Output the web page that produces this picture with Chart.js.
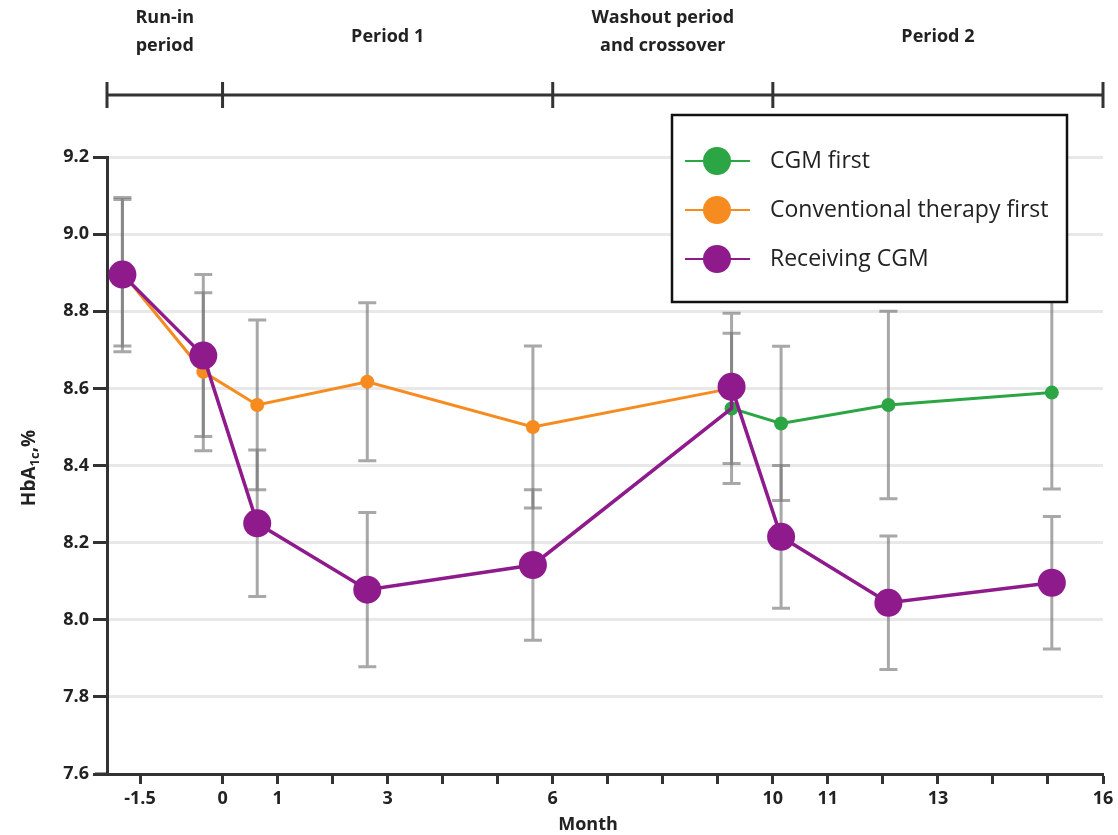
<!DOCTYPE html>
<html>
<head>
<meta charset="utf-8">
<script src="https://cdn.jsdelivr.net/npm/chart.js@4.4.1/dist/chart.umd.min.js"></script>
<style>
  html, body { margin: 0; padding: 0; background: #fff; }
  #wrap { width: 1118px; height: 835px; position: relative; }
</style>
</head>
<body>
<div id="wrap"><canvas id="c" width="1118" height="835"></canvas></div>
<script>
// ---------- data ----------
const months = [-1.82, -0.35, 0.63, 2.63, 5.64, 9.25, 10.15, 12.1, 15.07];

const conventionalFirst    = [8.90, 8.643, 8.557, 8.617, 8.50, 8.60];   // months[0..5]
const conventionalFirstErr = [0.19, 0.205, 0.22, 0.205, 0.21, 0.195];

const cgmFirst    = [8.548, 8.509, 8.557, 8.589];                       // months[5..8]
const cgmFirstErr = [0.195, 0.20, 0.243, 0.25];

const receivingCgmP1    = [8.895, 8.685, 8.25, 8.078, 8.142, 8.548];    // months[0..5]
const receivingCgmP1Err = [0.20, 0.21, 0.19, 0.20, 0.195, 0];
const receivingCgmP2    = [8.604, 8.215, 8.044, 8.096];                 // months[5..8]
const receivingCgmP2Err = [0, 0.185, 0.173, 0.172];

const xTickValues  = [-1.5, 0, 1, 2, 3, 4, 5, 6, 7, 8, 9, 10, 11, 12, 13, 14, 15, 16];
const xTickLabels  = [-1.5, 0, 1, 3, 6, 10, 11, 13, 16];
const yTickValues  = [7.6, 7.8, 8.0, 8.2, 8.4, 8.6, 8.8, 9.0, 9.2];

const periodEdges  = [-2.1, 0, 6, 10, 16];
const periodLabels = [["Run-in", "period"], ["Period 1"], ["Washout period", "and crossover"], ["Period 2"]];

const seriesNames  = ["CGM first", "Conventional therapy first", "Receiving CGM"];
const seriesColors = ["#2ca544", "#f68b1f", "#8e1a8c"];

// ---------- build datasets ----------
const greenData  = cgmFirst.map((v, i) => ({ x: months[5 + i], y: v }));
const orangeData = conventionalFirst.map((v, i) => ({ x: months[i], y: v }));
const purpleData = receivingCgmP1.map((v, i) => ({ x: months[i], y: v }))
  .concat(receivingCgmP2.map((v, i) => ({ x: months[5 + i], y: v })));
const purpleErr  = receivingCgmP1Err.concat(receivingCgmP2Err);

const FONT = "'Open Sans', 'Noto Sans', sans-serif";

const errorBarPlugin = {
  id: 'errorBars',
  beforeDatasetsDraw(chart) {
    const ctx = chart.ctx;
    const ys = chart.scales.y, xs = chart.scales.x;
    ctx.save();
    chart.data.datasets.forEach(ds => {
      (ds.errorBars || []).forEach((e, i) => {
        if (!e) return;
        const p = ds.data[i];
        const x = xs.getPixelForValue(p.x);
        const y1 = ys.getPixelForValue(p.y + e);
        const y2 = ys.getPixelForValue(p.y - e);
        ctx.strokeStyle = 'rgba(115,115,115,0.62)';
        ctx.lineWidth = 3;
        ctx.beginPath();
        ctx.moveTo(x, y1); ctx.lineTo(x, y2);
        ctx.moveTo(x - 9, y1); ctx.lineTo(x + 9, y1);
        ctx.moveTo(x - 9, y2); ctx.lineTo(x + 9, y2);
        ctx.stroke();
      });
    });
    ctx.restore();
  }
};

const decorPlugin = {
  id: 'decor',
  afterDraw(chart) {
    const ctx = chart.ctx;
    const xs = chart.scales.x;
    const area = chart.chartArea;
    ctx.save();
    // extension of x axis line to the left
    ctx.strokeStyle = '#333';
    ctx.lineWidth = 3;
    ctx.beginPath();
    ctx.moveTo(95, area.bottom); ctx.lineTo(area.left, area.bottom);
    ctx.stroke();

    // period header bar
    const barY = 95;
    const px = periodEdges.map(v => xs.getPixelForValue(v));
    ctx.beginPath();
    ctx.moveTo(px[0], barY); ctx.lineTo(px[px.length - 1], barY);
    px.forEach(x => { ctx.moveTo(x, barY - 13); ctx.lineTo(x, barY + 13); });
    ctx.stroke();

    ctx.fillStyle = '#222';
    ctx.font = `bold 18px ${FONT}`;
    ctx.textAlign = 'center';
    ctx.textBaseline = 'middle';
    periodLabels.forEach((lines, i) => {
      const cx = (px[i] + px[i + 1]) / 2;
      if (lines.length === 2) {
        ctx.fillText(lines[0], cx, 18);
        ctx.fillText(lines[1], cx, 46);
      } else {
        ctx.fillText(lines[0], cx, 37);
      }
    });

    // x axis title
    ctx.font = `bold 18px ${FONT}`;
    ctx.fillText('Month', 588, 825);

    // y axis title with subscript
    ctx.save();
    ctx.translate(30, 468);
    ctx.rotate(-Math.PI / 2);
    ctx.textAlign = 'left';
    ctx.textBaseline = 'middle';
    const big = `bold 19px ${FONT}`, small = `bold 13px ${FONT}`;
    ctx.font = big; const w1 = ctx.measureText('HbA').width;
    ctx.font = small; const w2 = ctx.measureText('1c').width;
    ctx.font = big; const w3 = ctx.measureText(',%').width;
    let sx = -(w1 + w2 + w3) / 2;
    ctx.font = big; ctx.fillText('HbA', sx, 0); sx += w1;
    ctx.font = small; ctx.fillText('1c', sx, 5); sx += w2;
    ctx.font = big; ctx.fillText(',%', sx, 0);
    ctx.restore();

    // legend box
    const L = 672, T = 115, R = 1067, B = 302;
    ctx.fillStyle = '#fff';
    ctx.fillRect(L, T, R - L, B - T);
    ctx.strokeStyle = '#111';
    ctx.lineWidth = 2.5;
    ctx.strokeRect(L, T, R - L, B - T);
    const rows = [161, 210, 259];
    seriesNames.forEach((name, i) => {
      const y = rows[i];
      ctx.strokeStyle = seriesColors[i];
      ctx.lineWidth = 2;
      ctx.beginPath(); ctx.moveTo(685, y); ctx.lineTo(750, y); ctx.stroke();
      ctx.fillStyle = seriesColors[i];
      ctx.beginPath(); ctx.arc(717, y, 14, 0, Math.PI * 2); ctx.fill();
      ctx.fillStyle = '#222';
      ctx.font = `23px ${FONT}`;
      ctx.textAlign = 'left';
      ctx.textBaseline = 'middle';
      ctx.fillText(name, 770, y);
    });
    ctx.restore();
  }
};

new Chart(document.getElementById('c'), {
  type: 'line',
  data: {
    datasets: [
      { label: seriesNames[0], data: greenData, errorBars: cgmFirstErr, order: 1,
        borderColor: seriesColors[0], backgroundColor: seriesColors[0], borderWidth: 3,
        pointRadius: 7, pointBorderWidth: 0, tension: 0 },
      { label: seriesNames[1], data: orangeData, errorBars: conventionalFirstErr, order: 2,
        borderColor: seriesColors[1], backgroundColor: seriesColors[1], borderWidth: 3,
        pointRadius: 7, pointBorderWidth: 0, tension: 0 },
      { label: seriesNames[2], data: purpleData, errorBars: purpleErr, order: 0,
        borderColor: seriesColors[2], backgroundColor: seriesColors[2], borderWidth: 3.5,
        pointRadius: (c) => (c.dataIndex === receivingCgmP1.length - 1 ? 0 : 14),
        pointBorderWidth: 0, tension: 0 }
    ]
  },
  options: {
    responsive: false,
    animation: false,
    events: [],
    layout: { padding: { top: 157, right: 15, left: 0, bottom: 0 } },
    plugins: { legend: { display: false }, tooltip: { enabled: false } },
    scales: {
      x: {
        type: 'linear', min: -2.1, max: 16,
        afterBuildTicks: (s) => { s.ticks = xTickValues.map(v => ({ value: v })); },
        afterFit: (s) => { s.height = 61; },
        grid: { drawOnChartArea: false, tickLength: 10, tickColor: '#333', tickWidth: 3 },
        border: { color: '#333', width: 3 },
        ticks: {
          autoSkip: false, maxRotation: 0, padding: 4, color: '#222',
          font: { family: FONT, weight: 'bold', size: 18 },
          callback: (v) => (xTickLabels.includes(v) ? String(v) : '')
        }
      },
      y: {
        type: 'linear', min: 7.6, max: 9.2,
        afterBuildTicks: (s) => { s.ticks = yTickValues.map(v => ({ value: v })); },
        afterFit: (s) => { s.width = 107; },
        grid: { color: '#e8e8e8', lineWidth: 3, tickLength: 14, tickColor: '#333', tickWidth: 3 },
        border: { color: '#333', width: 3 },
        ticks: {
          padding: 4, color: '#222',
          font: { family: FONT, weight: 'bold', size: 18 },
          callback: (v) => Number(v).toFixed(1)
        }
      }
    }
  },
  plugins: [errorBarPlugin, decorPlugin]
});
</script>
</body>
</html>
